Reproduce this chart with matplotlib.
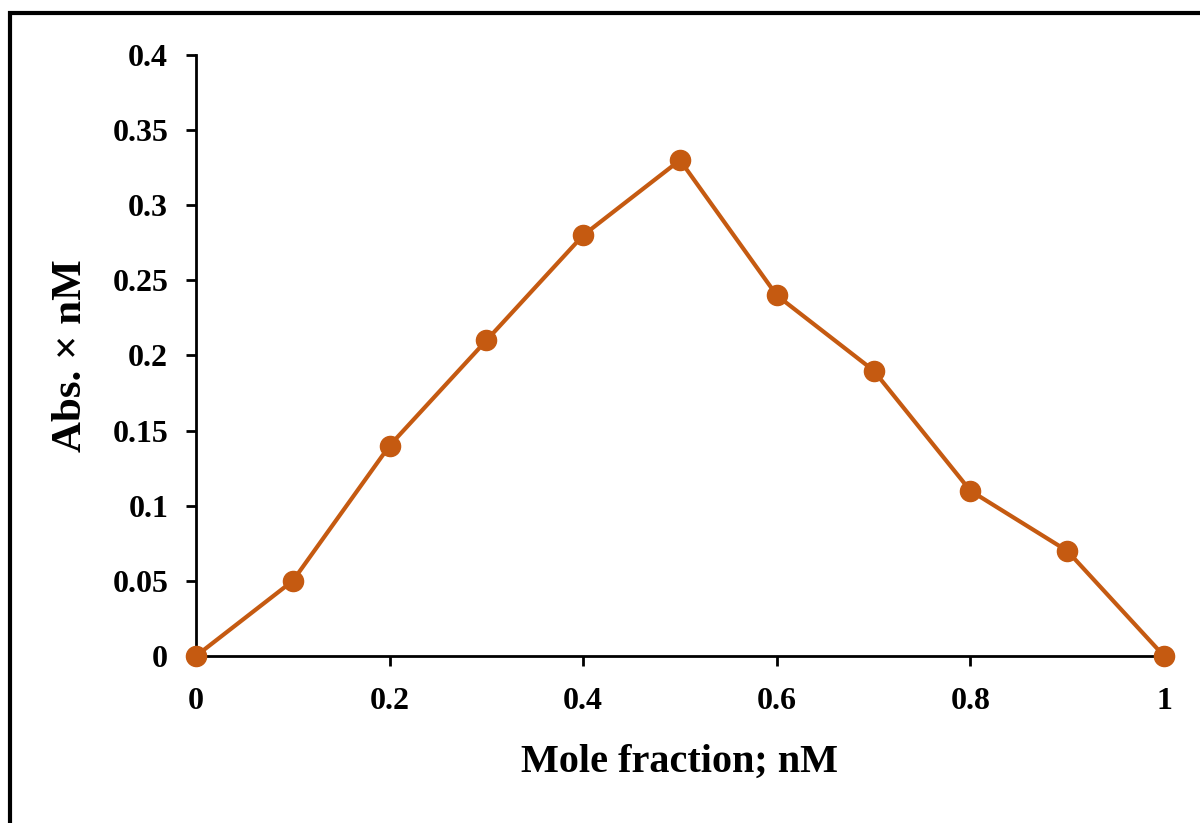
import matplotlib
matplotlib.use('Agg')
import matplotlib.pyplot as plt
from matplotlib.patches import Rectangle

mole_fraction = [0, 0.1, 0.2, 0.3, 0.4, 0.5, 0.6, 0.7, 0.8, 0.9, 1.0]
absorbance = [0, 0.05, 0.14, 0.21, 0.28, 0.33, 0.24, 0.19, 0.11, 0.07, 0]
x_ticks = [0, 0.2, 0.4, 0.6, 0.8, 1]
x_tick_labels = ['0', '0.2', '0.4', '0.6', '0.8', '1']
y_ticks = [0, 0.05, 0.1, 0.15, 0.2, 0.25, 0.3, 0.35, 0.4]
y_tick_labels = ['0', '0.05', '0.1', '0.15', '0.2', '0.25', '0.3', '0.35', '0.4']

plt.rcParams['font.family'] = ['Liberation Serif', 'DejaVu Serif']
plt.rcParams['font.weight'] = 'bold'

fig = plt.figure(figsize=(12, 8.23), dpi=100)
ax = fig.add_axes([0.1633, 0.2029, 0.97 - 0.1633, 0.9332 - 0.2029])

color = '#C55A11'
ax.plot(mole_fraction, absorbance, color=color, linewidth=3, marker='o',
        markersize=14.5, clip_on=False, zorder=3)

ax.set_xlim(0, 1)
ax.set_ylim(0, 0.4)
ax.set_xticks(x_ticks)
ax.set_xticklabels(x_tick_labels)
ax.set_yticks(y_ticks)
ax.set_yticklabels(y_tick_labels)
ax.spines['top'].set_visible(False)
ax.spines['right'].set_visible(False)
for s in ('left', 'bottom'):
    ax.spines[s].set_linewidth(2)
ax.tick_params(axis='both', direction='out', length=7, width=2,
               labelsize=23)
ax.tick_params(axis='y', pad=13)
ax.tick_params(axis='x', pad=15)
for lab in ax.get_xticklabels() + ax.get_yticklabels():
    lab.set_fontweight('bold')

ax.set_xlabel('Mole fraction; nM', fontsize=29, fontweight='bold', labelpad=20)
ax.set_ylabel('Abs. × nM', fontsize=31, fontweight='bold', labelpad=16)

# outer frame (cut off at right and bottom)
frame = Rectangle((10 / 1200, -0.2), 1.5, (823 - 13) / 823 + 0.2,
                  transform=fig.transFigure, fill=False, edgecolor='black',
                  linewidth=3, clip_on=False)
fig.patches.append(frame)

fig.savefig('out.png', dpi=100)
